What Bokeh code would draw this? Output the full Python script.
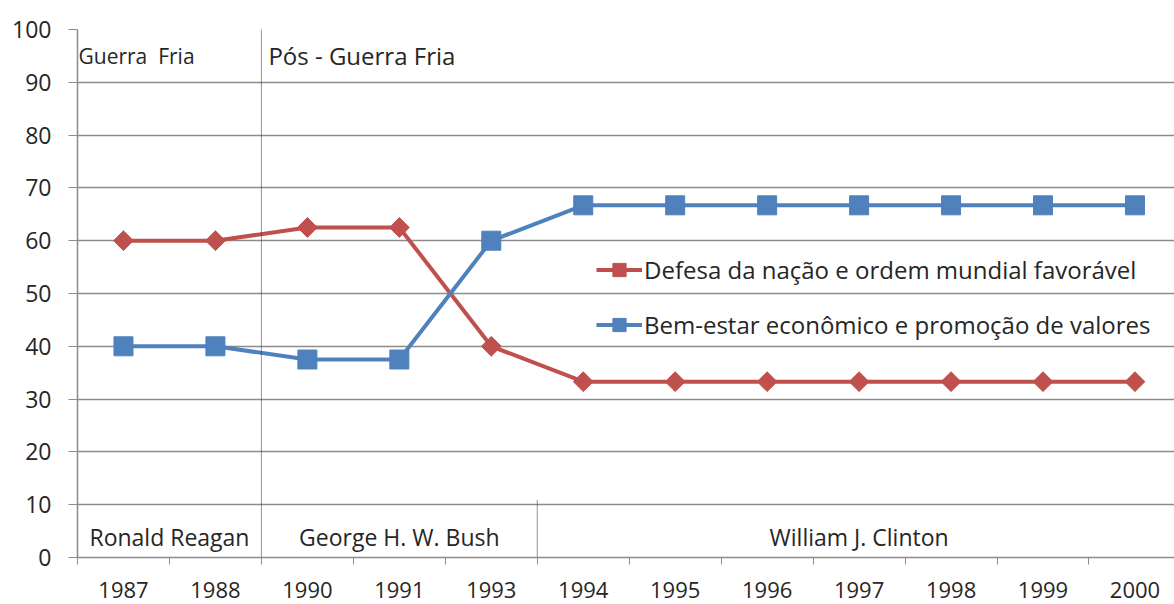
import math
from bokeh.plotting import figure
from bokeh.models import Range1d, FixedTicker, Legend, LegendItem, Span
from bokeh.core.properties import value
from bokeh.embed import file_html
from bokeh.resources import INLINE

years = ["1987", "1988", "1990", "1991", "1993", "1994", "1995", "1996", "1997", "1998", "1999", "2000"]
defesa = [60, 60, 62.5, 62.5, 40, 33.3, 33.3, 33.3, 33.3, 33.3, 33.3, 33.3]
bem_estar = [40, 40, 37.5, 37.5, 60, 66.7, 66.7, 66.7, 66.7, 66.7, 66.7, 66.7]
name_defesa = "Defesa da nação e ordem mundial favorável"
name_bem = "Bem-estar econômico e promoção de valores"

# periods: (label, first year, last year)
periods = [("Guerra\u00a0 Fria", "1987", "1988"), ("Pós - Guerra Fria", "1990", "2000")]
presidents = [("Ronald Reagan", "1987", "1988"), ("George H. W. Bush", "1990", "1993"),
              ("William J. Clinton", "1994", "2000")]
pres_line_top = 11

FONT = "Open Sans"
TXT = "#262626"
GRID = "#8c8c8c"
RED = "#C0504D"
BLUE = "#4F81BD"

xs = list(range(len(years)))

p = figure(width=1174, height=604, output_backend="svg", toolbar_location=None,
           x_range=Range1d(-0.5, 11.43), y_range=Range1d(0, 100),
           min_border_left=77, min_border_right=0, min_border_top=29, min_border_bottom=47)
p.outline_line_color = None
p.background_fill_color = "white"
p.border_fill_color = "white"

# axes
p.xaxis.ticker = FixedTicker(ticks=xs, minor_ticks=[i - 0.5 for i in xs] + [len(xs) - 0.5])
p.xaxis.major_label_overrides = {i: y for i, y in enumerate(years)}
p.xaxis.major_tick_line_color = None
p.xaxis.major_tick_in = 0
p.xaxis.major_tick_out = 0
p.xaxis.minor_tick_in = 0
p.xaxis.minor_tick_out = 7
p.xaxis.minor_tick_line_color = GRID
p.xaxis.axis_line_color = GRID
p.xaxis.major_label_standoff = 17
p.xaxis.major_label_text_font_size = "22px"
p.xgrid.grid_line_color = None

p.yaxis.ticker = FixedTicker(ticks=list(range(0, 101, 10)), minor_ticks=[])
p.yaxis.major_tick_in = 0
p.yaxis.major_tick_out = 9
p.yaxis.major_tick_line_color = GRID
p.yaxis.axis_line_color = GRID
p.yaxis.major_label_standoff = 17
p.yaxis.major_label_text_font_size = "23px"
p.ygrid.grid_line_color = GRID
p.ygrid.grid_line_width = 1.5

for ax in (p.xaxis[0], p.yaxis[0]):
    ax.major_label_text_font = FONT
    ax.major_label_text_color = TXT
    ax.axis_line_width = 1.5

# era separators
idx = {y: i for i, y in enumerate(years)}
first_boundary = idx[periods[1][1]] - 0.5
p.add_layout(Span(location=first_boundary, dimension="height", line_color="#2a2a2a",
                  line_dash="1 1", line_width=1))
p.segment(x0=[idx[presidents[2][1]] - 0.5], y0=[0], x1=[idx[presidents[2][1]] - 0.5],
          y1=[pres_line_top], line_color="#2a2a2a", line_dash="1 1", line_width=1)

# series
r1l = p.line(xs, defesa, line_color=RED, line_width=4)
r1m = p.scatter(xs, defesa, marker="square", angle=math.pi / 4, size=14,
                fill_color=RED, line_color=RED)
r2l = p.line(xs, bem_estar, line_color=BLUE, line_width=4)
r2m = p.scatter(xs, bem_estar, marker="square", size=19, fill_color=BLUE, line_color=BLUE)

# period labels
p.text(x=[idx[periods[0][1]] - 0.5], y=[95], text=[periods[0][0]],
       x_offset=1, text_baseline="middle", text_align="left",
       text_font=value(FONT), text_font_size="21px", text_color=TXT)
p.text(x=[idx[periods[1][1]] - 0.5], y=[95], text=[periods[1][0]],
       x_offset=7, text_baseline="middle", text_align="left",
       text_font=value(FONT), text_font_size="24px", text_color=TXT)
p.text(x=[(idx[a] + idx[b]) / 2 for _, a, b in presidents], y=[3.8] * 3,
       text=[t for t, _, _ in presidents], text_baseline="middle", text_align="center",
       text_font=value(FONT), text_font_size="23px", text_color=TXT)

legend = Legend(items=[LegendItem(label=name_defesa, renderers=[r1l, r1m]),
                       LegendItem(label=name_bem, renderers=[r2l, r2m])],
                location=(519, 216), orientation="vertical",
                glyph_width=46, glyph_height=33, label_height=33, spacing=22,
                padding=0, margin=0, label_standoff=2,
                border_line_color=None, background_fill_alpha=0,
                label_text_font=FONT, label_text_font_size="24px", label_text_color=TXT)
p.add_layout(legend, "center")

open("out.html", "w").write(file_html(p, INLINE))
